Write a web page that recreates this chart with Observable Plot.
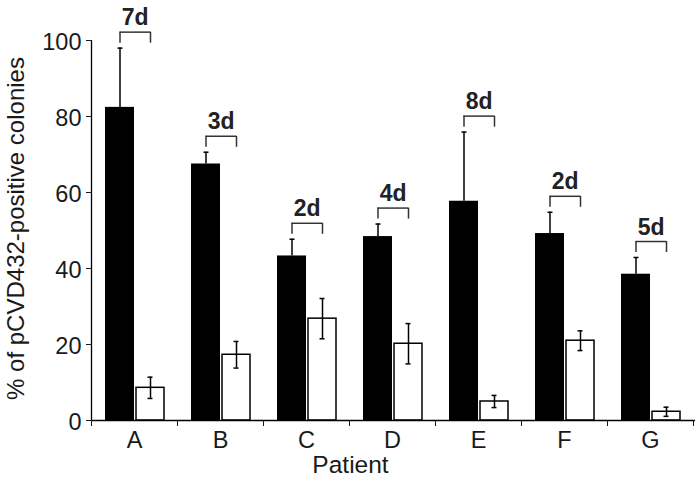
<!DOCTYPE html>
<html><head><meta charset="utf-8">
<script src="https://cdn.jsdelivr.net/npm/d3@7"></script>
<script src="https://cdn.jsdelivr.net/npm/@observablehq/plot@0.6"></script>
<style>body{margin:0;background:#fff}</style>
</head><body><div id="chart"></div>
<script>
const patients = ["A","B","C","D","E","F","G"];
const before = [82.4, 67.5, 43.3, 48.4, 57.7, 49.2, 38.5];
const beforeErr = [15.6, 3.1, 4.4, 3.3, 18.2, 5.6, 4.4];
const after = [8.6, 17.3, 26.8, 20.2, 5.0, 21.0, 2.3];
const afterErr = [2.8, 3.5, 5.3, 5.3, 1.6, 2.6, 1.2];
const intervals = ["7d","3d","2d","4d","8d","2d","5d"];
const yTicks = [0, 20, 40, 60, 80, 100];
const yTitle = "% of pCVD432-positive colonies";
const xTitle = "Patient";

const rows = patients.map((p, i) => ({
  patient: p, before: before[i], bErr: beforeErr[i],
  after: after[i], aErr: afterErr[i], label: intervals[i]
}));
const hi = d => d.before + d.bErr;

const chart = Plot.plot({
  width: 700, height: 479,
  marginLeft: 91, marginRight: 7, marginTop: 40, marginBottom: 59,
  style: {fontFamily: "'Liberation Sans', Arial, sans-serif", background: "white", color: "#1a1a1a"},
  x: {domain: patients, paddingInner: 0, paddingOuter: 0},
  y: {domain: [0, 100]},
  marks: [
    Plot.barY(rows, {x: "patient", y: "before", fill: "black", insetLeft: 14, insetRight: 43}),
    Plot.barY(rows, {x: "patient", y: "after", fill: "white", stroke: "black", strokeWidth: 1.5, insetLeft: 45, insetRight: 13}),
    // error bars (black bars: upward only)
    Plot.ruleX(rows, {x: "patient", y1: "before", y2: hi, dx: -14.5, stroke: "black", strokeWidth: 1.5}),
    Plot.tickY(rows, {x: "patient", y: hi, insetLeft: 26.5, insetRight: 54.5, stroke: "black", strokeWidth: 1.5}),
    // error bars (white bars)
    Plot.ruleX(rows, {x: "patient", y1: d => d.after - d.aErr, y2: d => d.after + d.aErr, dx: 16, stroke: "black", strokeWidth: 1.5}),
    Plot.tickY(rows, {x: "patient", y: d => d.after + d.aErr, insetLeft: 56.5, insetRight: 24.5, stroke: "black", strokeWidth: 1.5}),
    Plot.tickY(rows, {x: "patient", y: d => d.after - d.aErr, insetLeft: 56.5, insetRight: 24.5, stroke: "black", strokeWidth: 1.5}),
    // brackets
    Plot.tickY(rows, {x: "patient", y: d => hi(d) + 4.2, insetLeft: 28.5, insetRight: 27, stroke: "#333", strokeWidth: 1.5}),
    Plot.ruleX(rows, {x: "patient", y1: d => hi(d) + 1.3, y2: d => hi(d) + 4.2, dx: -14.5, stroke: "#333", strokeWidth: 1.5}),
    Plot.ruleX(rows, {x: "patient", y1: d => hi(d) + 1.3, y2: d => hi(d) + 4.2, dx: 16, stroke: "#333", strokeWidth: 1.5}),
    Plot.text(rows, {x: "patient", y: d => hi(d) + 4.2, text: "label", dx: 0.75, dy: -7, lineAnchor: "bottom", fontSize: 23, fontWeight: "bold", fill: "#222"}),
    // axes
    Plot.ruleX(["A"], {dx: -43, stroke: "black", strokeWidth: 1.3}),
    Plot.ruleY([0], {insetRight: -2, stroke: "black", strokeWidth: 1.3}),
    Plot.axisY({ticks: yTicks, tickSize: 5, tickFormat: () => "", label: null}),
    Plot.axisY({ticks: yTicks, tickSize: 0, tickPadding: 10, fontSize: 23.5, dy: 2, label: null}),
    Plot.axisX({tickSize: 6, dx: -43, tickFormat: () => "", label: null}),
    Plot.axisX({ticks: ["G"], tickSize: 6, dx: 43, tickFormat: () => "", label: null}),
    Plot.axisX({tickSize: 0, tickPadding: 11, fontSize: 23.5, label: null}),
    Plot.text([xTitle], {text: d => d, frameAnchor: "bottom", dx: -42, dy: 35, lineAnchor: "top", fontSize: 24.5}),
    Plot.text([yTitle], {text: d => d, frameAnchor: "left", textAnchor: "middle", lineAnchor: "middle", rotate: -90, dx: -75, dy: -2, fontSize: 24})
  ]
});
document.getElementById("chart").append(chart);
</script>
</body></html>
